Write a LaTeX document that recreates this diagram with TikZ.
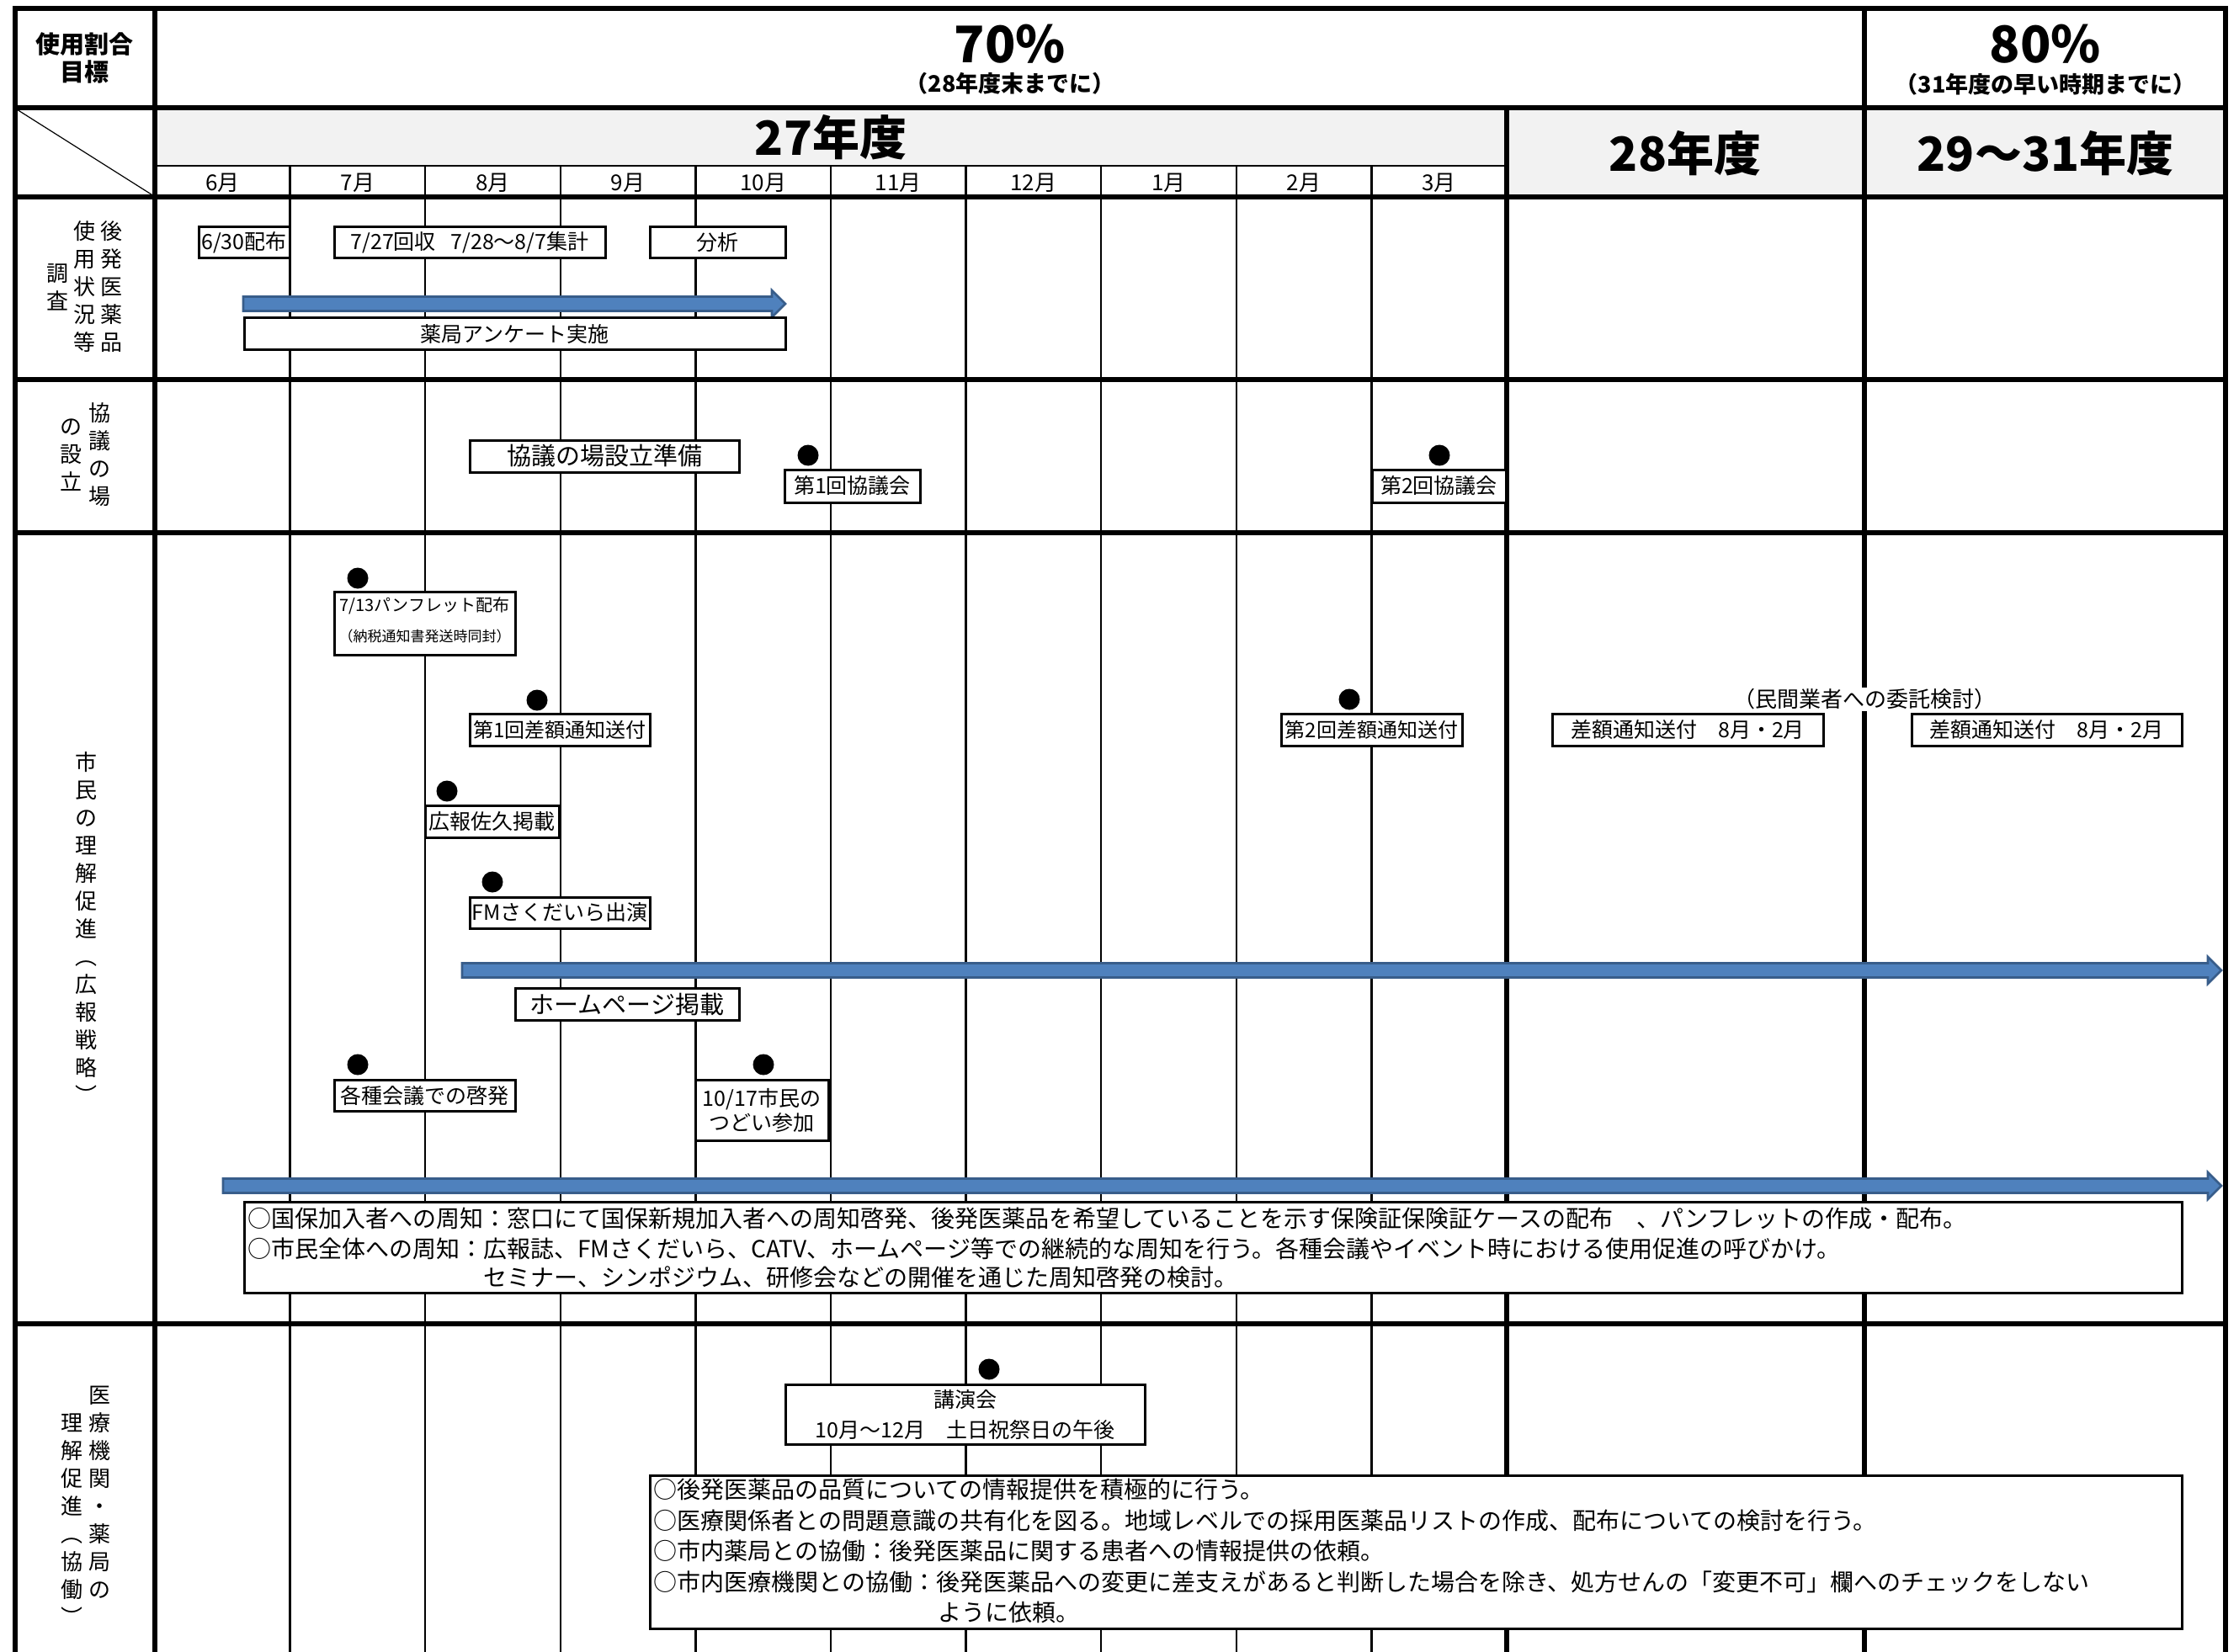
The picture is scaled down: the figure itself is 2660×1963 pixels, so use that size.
\documentclass[tikz,border=0pt]{standalone}
\usepackage{fontspec}
\setmainfont{Noto Sans CJK JP}
\usetikzlibrary{calc}
\definecolor{bandgray}{HTML}{F2F2F2}
\definecolor{arrfill}{HTML}{4F81BD}
\definecolor{arrline}{HTML}{385D8A}
\newcommand{\jsz}[1]{\fontsize{#1}{#1}\selectfont}
\newcommand{\bluebar}[2]{%
  \filldraw[arrowst] ($(#1)+(0,-8.5)$) -- ($(#2)+(-16,-8.5)$) -- ($(#2)+(-16,-16)$) -- (#2)
    -- ($(#2)+(-16,16)$) -- ($(#2)+(-16,8.5)$) -- ($(#1)+(0,8.5)$) -- cycle;}
\begin{document}
\begin{tikzpicture}[x=0.5pt,y=-0.5pt,
  thickl/.style={line width=2.6pt},
  thinl/.style={line width=1.2pt},
  diagl/.style={line width=0.6pt},
  arrowst/.style={fill=arrfill,draw=arrline,line width=1.3pt,line join=miter},
  boxst/.style={draw,fill=white,line width=1.5pt,inner sep=0pt,align=center,font=\jsz{12.5}},
  dotst/.style={circle,fill=black,inner sep=0pt,minimum size=12.5pt},
  sect/.style={align=center,inner sep=0pt,font=\fontsize{13}{16.5}\selectfont},
  mon/.style={inner sep=0pt,font=\jsz{13}},
  yrst/.style={inner sep=0pt,font=\bfseries\jsz{28}},
  pct/.style={inner sep=0pt,font=\bfseries\jsz{30}},
  subst/.style={inner sep=0pt,font=\bfseries\jsz{13.5}},
  bt/.style={anchor=west,inner sep=0pt,font=\jsz{14}},
]
\useasboundingbox (0,0) rectangle (2660,1963);
\clip (0,0) rectangle (2660,1963);
\fill[white] (0,0) rectangle (2660,1963);
% gray header bands
\fill[bandgray] (184,128) rectangle (1790,197);
\fill[bandgray] (1790,128) rectangle (2644,234);
% month lines
\foreach \k in {1,...,9} \draw[thinl] ({184+160.6*\k},197) -- ({184+160.6*\k},1990);
\draw[thinl] (184,197) -- (1790,197);
\draw[diagl] (20,130) -- (183,233);
% thick grid
\draw[thickl] (18,10) rectangle (2644,1995);
\draw[thickl] (184,10) -- (184,1995);
\draw[thickl] (2215,10) -- (2215,1995);
\draw[thickl] (1790,128) -- (1790,1995);
\foreach \yy in {128,234,451,633,1573} \draw[thickl] (18,\yy) -- (2644,\yy);

% header texts
\node[align=center,inner sep=0pt,font=\bfseries\fontsize{14.5}{16.5}\selectfont] (goal) at (100,69) {使用割合\\目標};
\node[pct] (p70) at (1200,52) {70\%};
\node[subst] (p70s) at (1200,99) {（28年度末までに）};
\node[pct] (p80) at (2430,52) {80\%};
\node[subst] (p80s) at (2430,100) {（31年度の早い時期までに）};
\node[yrst] (y27) at (987,163) {27年度};
\node[yrst] (y28) at (2002,182) {28年度};
\node[yrst] (y29) at (2430,182) {29～31年度};
\foreach \m [count=\k from 0] in {6月,7月,8月,9月,10月,11月,12月,1月,2月,3月}
  \node[mon] (mon\k) at ({264.3+160.6*\k},217) {\m};

% section labels
\node[sect] (s1a) at (132,341) {後\\発\\医\\薬\\品};
\node[sect] (s1b) at (100,341) {使\\用\\状\\況\\等};
\node[sect] (s1c) at (68,341.5) {調\\査};
\node[sect] (s2a) at (118,540) {協\\議\\の\\場};
\node[sect] (s2b) at (84,541) {の\\設\\立};
\node[sect] (s3) at (102,1103) {市\\民\\の\\理\\解\\促\\進\\︵\\広\\報\\戦\\略\\︶};
\node[sect] (s4a) at (118,1773.5) {医\\療\\機\\関\\・\\薬\\局\\の};
\node[sect] (s4b) at (85,1805.5) {理\\解\\促\\進\\︵\\協\\働\\︶};

% survey section
\node[boxst,minimum width=54pt,minimum height=18.5pt] (b630) at (290,288.5) {6/30配布};
\node[boxst,minimum width=161pt,minimum height=18.5pt] (b727) at (558,288.5) {7/27回収\hspace{0.7em}7/28～8/7集計};
\node[boxst,minimum width=80.5pt,minimum height=18.5pt] (bbun) at (852.5,288.5) {分析};
\coordinate (a1s) at (289,361);
\coordinate (a1e) at (933,361);
\bluebar{a1s}{a1e}
\node[boxst,minimum width=321.5pt,minimum height=19pt] (bank) at (611.5,397) {薬局アンケート実施};

% council section
\node[boxst,minimum width=160pt,minimum height=19pt,font=\jsz{14.5}] (bprep) at (718,542) {協議の場設立準備};
\node[dotst] (d1) at (960,541) {};
\node[boxst,minimum width=80.5pt,minimum height=19.5pt] (bk1) at (1012.5,577.5) {第1回協議会};
\node[dotst] (d2) at (1710,541) {};
\node[boxst,minimum width=79.5pt,minimum height=19.5pt] (bk2) at (1709.5,577.5) {第2回協議会};

% citizen section
\node[dotst] (d3) at (425,687) {};
\node[boxst,minimum width=107.5pt,minimum height=37.5pt] (bpam) at (504.5,740.5) {};
\node[inner sep=0pt,font=\jsz{10}] (tpam1) at (504.5,720) {7/13パンフレット配布};
\node[inner sep=0pt,font=\jsz{8.5}] (tpam2) at (504.5,756) {（納税通知書発送時同封）};
\node[dotst] (d4) at (638,832) {};
\node[boxst,minimum width=107pt,minimum height=19pt,font=\jsz{12}] (bsa1) at (665,867) {第1回差額通知送付};
\node[dotst] (d5) at (1603,831) {};
\node[boxst,minimum width=107.5pt,minimum height=19pt,font=\jsz{12}] (bsa2) at (1629.5,867) {第2回差額通知送付};
\node[boxst,minimum width=161pt,minimum height=19pt] (bsa3) at (2005,867) {差額通知送付　8月・2月};
\node[boxst,minimum width=160.5pt,minimum height=19pt] (bsa4) at (2431.5,867) {差額通知送付　8月・2月};
\node[fill=white,inner sep=1pt,font=\jsz{13}] (minkan) at (2215,831) {（民間業者への委託検討）};
\node[dotst] (d6) at (531,940) {};
\node[boxst,minimum width=79.5pt,minimum height=19pt] (bkoho) at (584.5,976) {広報佐久掲載};
\node[dotst] (d7) at (585,1048) {};
\node[boxst,minimum width=107pt,minimum height=18.5pt] (bfm) at (665,1084.5) {FMさくだいら出演};
\coordinate (a2s) at (549,1153);
\coordinate (a2e) at (2639,1153);
\bluebar{a2s}{a2e}
\node[boxst,minimum width=133pt,minimum height=19pt,font=\jsz{14.5}] (bhp) at (745,1193) {ホームページ掲載};
\node[dotst] (d8) at (425,1265) {};
\node[boxst,minimum width=107.5pt,minimum height=18.5pt] (bkai) at (504.5,1301.5) {各種会議での啓発};
\node[dotst] (d9) at (907,1265) {};
\node[boxst,minimum width=79pt,minimum height=36pt,font=\fontsize{12.5}{14.5}\selectfont] (btudoi) at (905,1319) {10/17市民の\\つどい参加};
\coordinate (a3s) at (265,1409);
\coordinate (a3e) at (2639,1409);
\bluebar{a3s}{a3e}
\node[boxst,minimum width=1151pt,minimum height=54pt] (bbig1) at (1441,1482) {};
\node[bt] (t11) at (294,1448) {○国保加入者への周知：窓口にて国保新規加入者への周知啓発、後発医薬品を希望していることを示す保険証保険証ケースの配布　、パンフレットの作成・配布。};
\node[bt] (t12) at (294,1484) {○市民全体への周知：広報誌、FMさくだいら、CATV、ホームページ等での継続的な周知を行う。各種会議やイベント時における使用促進の呼びかけ。};
\node[bt] (t13) at (574,1518) {セミナー、シンポジウム、研修会などの開催を通じた周知啓発の検討。};

% medical section
\node[dotst] (d10) at (1175,1627) {};
\node[boxst,minimum width=213.5pt,minimum height=35.5pt] (bkoen) at (1146.5,1680.5) {};
\node[inner sep=0pt,font=\jsz{12.5}] (tk1) at (1146.5,1663) {講演会};
\node[inner sep=0pt,font=\jsz{12.5}] (tk2) at (1146.5,1699) {10月～12月　土日祝祭日の午後};
\node[boxst,minimum width=910pt,minimum height=91pt] (bbig2) at (1682,1844) {};
\node[bt] (t21) at (776,1770) {○後発医薬品の品質についての情報提供を積極的に行う。};
\node[bt] (t22) at (776,1807) {○医療関係者との問題意識の共有化を図る。地域レベルでの採用医薬品リストの作成、配布についての検討を行う。};
\node[bt] (t23) at (776,1843) {○市内薬局との協働：後発医薬品に関する患者への情報提供の依頼。};
\node[bt] (t24) at (776,1880) {○市内医療機関との協働：後発医薬品への変更に差支えがあると判断した場合を除き、処方せんの「変更不可」欄へのチェックをしない};
\node[bt] (t25) at (1114,1916) {ように依頼。};
\end{tikzpicture}
\end{document}
